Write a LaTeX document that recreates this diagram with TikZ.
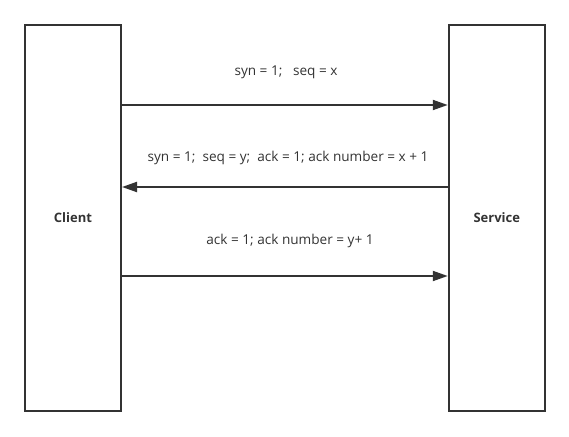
\documentclass[tikz,border=0pt]{standalone}
\usepackage{fontspec}
\setmainfont{Open Sans}
\usetikzlibrary{positioning, arrows.meta}
\definecolor{ink}{HTML}{333333}

\begin{document}
\begin{tikzpicture}[x=1pt, y=1pt,
    party/.style={draw=ink, line width=2pt, minimum width=96pt, minimum height=385.7pt,
                  inner sep=0pt, font=\bfseries\fontsize{13}{15}\selectfont, text=ink},
    msg/.style={draw=ink, line width=2pt, -{Triangle[length=15pt, width=10pt]}},
    msglabel/.style={text=ink, font=\fontsize{13.6}{15}\selectfont, inner sep=0pt}]
            \useasboundingbox (0,0) rectangle (569,436);

            % Teilnehmer
            \node[party] (client) at (73,218.15) {Client};
            \node[party] (service) at (496.75,218.15) {Service};

            % Hoehen der Pfeile
            \coordinate (m1) at (0,331);
            \coordinate (m2) at (0,249);
            \coordinate (m3) at (0,160);

            % Nachrichten
            \draw[msg] (client.east |- m1) -- (service.west |- m1);
            \draw[msg] (service.west |- m2) -- (client.east |- m2);
            \draw[msg] (client.east |- m3) -- (service.west |- m3);

            % Beschriftungen
            \node[msglabel] (l1) at (286,364) {syn = 1;\ \ \ seq = x};
            \node[msglabel] (l2) at (288,278) {syn = 1;\ \ seq = y;\ \ ack = 1; ack number = x + 1};
            \node[msglabel] (l3) at (290,195) {ack = 1; ack number = y+ 1};
\end{tikzpicture}
\end{document}
